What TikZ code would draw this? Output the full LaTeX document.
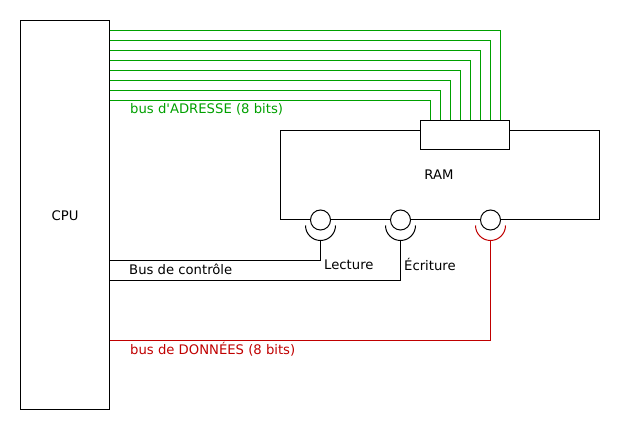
\documentclass[tikz,border=0pt]{standalone}
\usepackage{fontspec}
\setmainfont[Ligatures=TeXOff]{DejaVu Sans}
\usepackage{xcolor}
\usetikzlibrary{positioning}
\definecolor{busgreen}{HTML}{00a000}
\definecolor{busred}{HTML}{c00000}
\tikzset{
  every node/.style={font=\fontsize{13.2}{15}\selectfont},
  block/.style={
    rectangle, draw=black, fill=white, line width=1pt,
    inner sep=0pt, outer sep=0pt
  },
  port/.style={
    circle, draw=black, fill=white, line width=1pt,
    minimum size=20pt, inner sep=0pt, outer sep=0pt
  },
  wire/.style={line width=1pt, draw=black},
  adrwire/.style={line width=1pt, draw=busgreen},
  datawire/.style={line width=1pt, draw=busred},
  buslabel/.style={anchor=west, inner sep=0pt},
}
\begin{document}
\begin{tikzpicture}[x=1pt,y=1pt]
  \useasboundingbox (0,0) rectangle (620,430);
  % blocks
  \node[block, minimum width=89pt, minimum height=389pt] (cpu) at (65,215) {};
  \node[inner sep=0pt] (cpulabel) at (65,214.5) {CPU};
  \node[block, minimum width=319pt, minimum height=89pt] (ram) at (440,255) {};
  \node[inner sep=0pt] (ramlabel) at (439,255.5) {RAM};
  \node[block, minimum width=89pt, minimum height=29pt] (adr) at (465,295) {};
  % ports on the RAM
  \node[port] (lect) at (320.5,210) {};
  \node[port] (ecr) at (400.5,210) {};
  \node[port] (data) at (490.5,210) {};
  % cups under the ports
  \coordinate (lectcup) at (320.5,189.5);
  \coordinate (ecrcup) at (400.5,189.5);
  \coordinate (datacup) at (490.5,189.5);
  \draw[wire] (305.5,204.5) arc[start angle=180, end angle=360, radius=15pt];
  \draw[wire] (385.5,204.5) arc[start angle=180, end angle=360, radius=15pt];
  \draw[datawire] (475.5,204.5) arc[start angle=180, end angle=360, radius=15pt];
  % address bus
  \foreach \i in {0,...,7} {
    \pgfmathsetmacro{\py}{329.5+\i*10}
    \pgfmathsetmacro{\px}{430.5+\i*10}
    \coordinate (adrout\i) at (cpu.east |- 0,\py);
    \coordinate (adrin\i) at (adr.north -| \px,0);
    \draw[adrwire] (adrout\i) -| (adrin\i);
  }
  % control bus
  \coordinate (lectout) at (cpu.east |- 0,169.5);
  \coordinate (ecrout) at (cpu.east |- 0,149.5);
  \draw[wire] (lectout) -| (lectcup);
  \draw[wire] (ecrout) -| (ecrcup);
  % data bus
  \coordinate (dataout) at (cpu.east |- 0,89.5);
  \draw[datawire] (dataout) -| (datacup);
  % labels
  \node[buslabel, color=busgreen] (adrlabel) at (130,321) {bus d'ADRESSE (8 bits)};
  \node[buslabel] (ctrllabel) at (129,160.5) {Bus de contrôle};
  \node[buslabel] (lectlabel) at (324,165.5) {Lecture};
  \node[buslabel] (ecrlabel) at (404,165.5) {Écriture};
  \node[buslabel, color=busred] (datalabel) at (130,81) {bus de DONNÉES (8 bits)};
\end{tikzpicture}
\end{document}
